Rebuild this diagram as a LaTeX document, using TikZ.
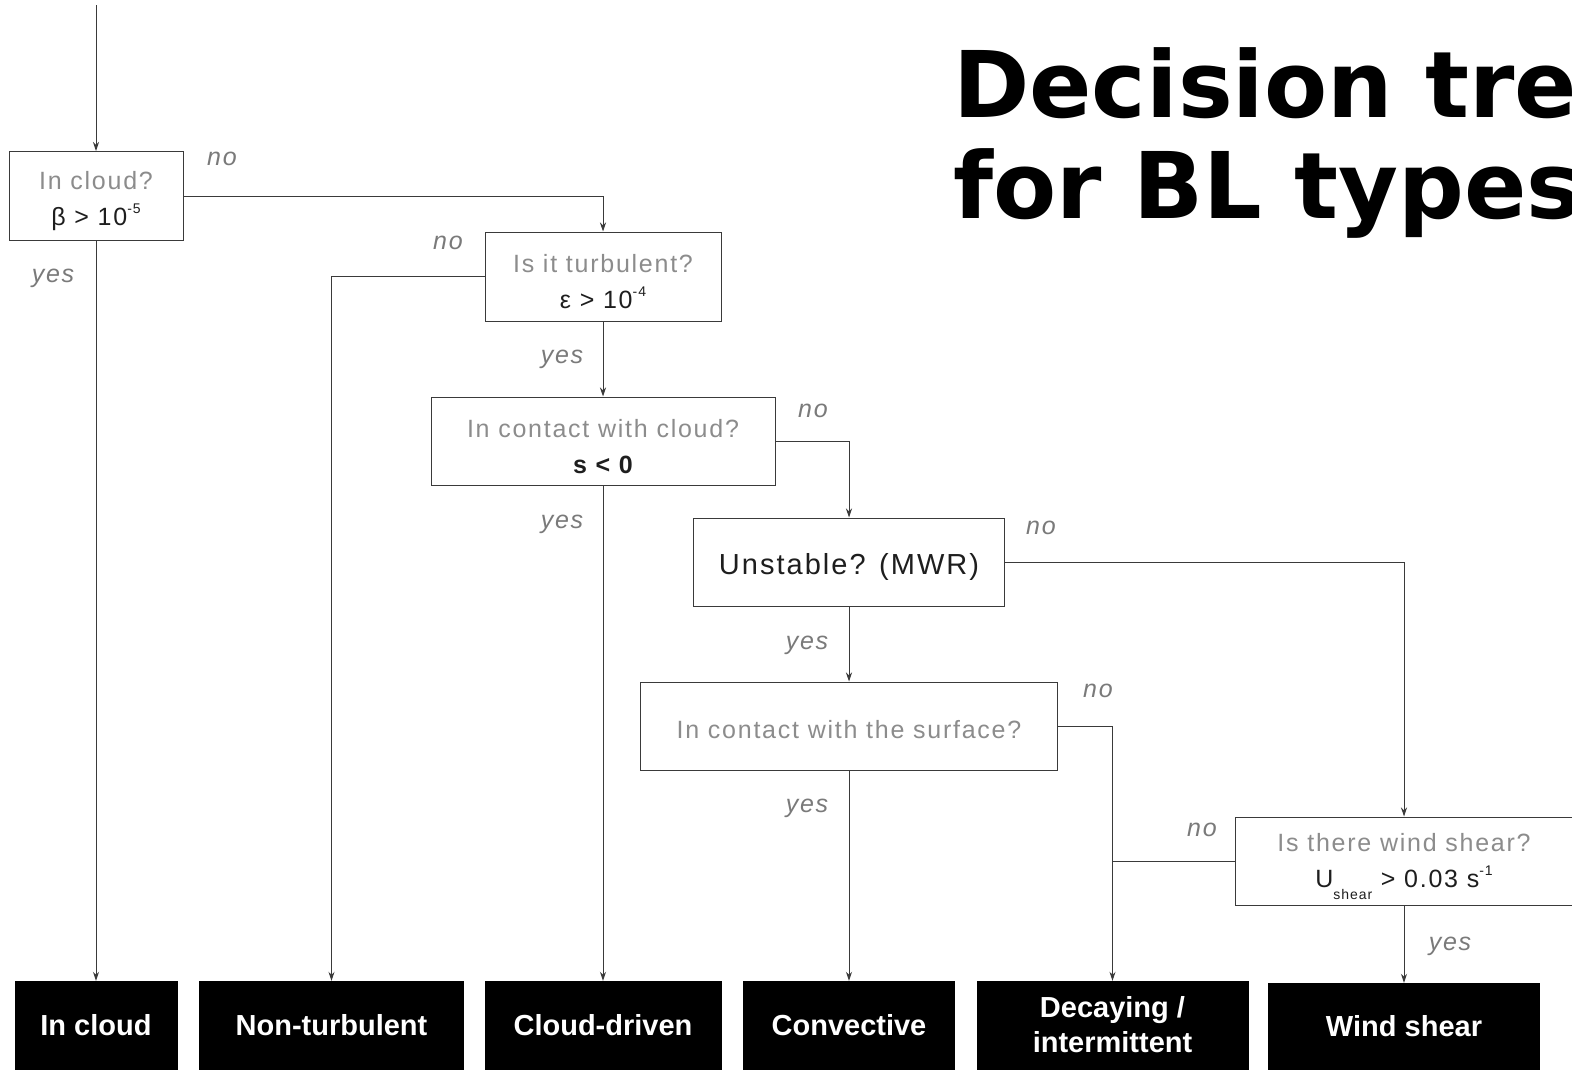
\documentclass[tikz,border=0pt]{standalone}
\usepackage{fontspec}
\setmainfont{Liberation Sans}
\newfontfamily\qfont[LetterSpace=7]{Liberation Sans}
\newfontfamily\titlefont{DejaVu Sans}
\usetikzlibrary{arrows.meta}
\definecolor{qgrey}{HTML}{8C8C8C}
\definecolor{fdark}{HTML}{1E1E1E}
\definecolor{lgrey}{HTML}{7A7A7A}
\definecolor{edgec}{HTML}{3A3A3A}
\newcommand\mysup[1]{\raisebox{0.5em}{\fontsize{14}{14}\selectfont #1}}
\newcommand\mysub[1]{\raisebox{-0.45em}{\fontsize{14}{14}\selectfont #1}}
\newcommand\tstrut{\rule{0pt}{29pt}}
\tikzset{
  qbox/.style={draw=edgec, line width=1pt, fill=white, inner sep=0pt, align=center,
    font=\qfont\fontsize{25}{36}\selectfont, text=qgrey},
  outbox/.style={fill=black, draw=black, inner sep=0pt, align=center, text=white,
    font=\bfseries\fontsize{29}{35}\selectfont, minimum height=88pt},
  lab/.style={text=lgrey, font=\qfont\itshape\fontsize{25}{25}\selectfont, inner sep=0pt},
  conn/.style={draw=edgec, line width=1pt},
  arr/.style={conn, -{Stealth[length=9pt,width=6pt]}}
}
\begin{document}
\begin{tikzpicture}[x=1pt,y=-1pt]
\useasboundingbox[fill=white] (0,0) rectangle (1572,1069);

% title
\node[anchor=base west, inner sep=0pt, font=\titlefont\bfseries\fontsize{92}{92}\selectfont] (t1) at (953,117) {Decision tree};
\node[anchor=base west, inner sep=0pt, font=\titlefont\bfseries\fontsize{92}{92}\selectfont] (t2) at (953,218) {for BL types};

% question boxes
\node[qbox, minimum width=174pt, minimum height=89pt] (b1) at (96,196)
  {\tstrut In cloud?\\{\color{fdark}β > 10\mysup{-5}}};
\node[qbox, minimum width=236pt, minimum height=89pt] (b2) at (603,276.5)
  {\tstrut Is it turbulent?\\{\color{fdark}ε > 10\mysup{-4}}};
\node[qbox, minimum width=344pt, minimum height=88pt] (b3) at (603,441)
  {\tstrut In contact with cloud?\\{\color{fdark}\bfseries s < 0}};
\node[qbox, minimum width=311pt, minimum height=88pt, text=fdark,
  font=\qfont\fontsize{29}{36}\selectfont] (b4) at (849,562) {\rule{0pt}{30pt}Unstable? (MWR)};
\node[qbox, minimum width=417pt, minimum height=88pt] (b5) at (849,726)
  {\rule{0pt}{25pt}In contact with the surface?};
\node[qbox, minimum width=338pt, minimum height=88pt] (b6) at (1404,861)
  {\tstrut Is there wind shear?\\{\color{fdark}U\mysub{shear} > 0.03 s\mysup{-1}}};

% outcome boxes
\node[outbox, minimum width=162pt] (o1) at (96,1025) {In cloud};
\node[outbox, minimum width=264pt] (o2) at (331.5,1025) {Non-turbulent};
\node[outbox, minimum width=236pt] (o3) at (603,1025) {Cloud-driven};
\node[outbox, minimum width=211pt] (o4) at (849,1025) {Convective};
\node[outbox, minimum width=271pt] (o5) at (1112.5,1025) {Decaying /\\intermittent};
\node[outbox, minimum width=271pt, minimum height=86pt] (o6) at (1404,1026) {Wind shear};

% connectors
\coordinate (start) at (96,5);
\draw[arr] (start) -- (b1.north);
\draw[arr] (b1.east) -| (b2.north);
\draw[arr] (b1.south) -- (o1.north);
\draw[arr] (b2.west) -| (o2.north);
\draw[arr] (b2.south) -- (b3.north);
\draw[arr] (b3.east) -| (b4.north);
\draw[arr] (b3.south) -- (o3.north);
\draw[arr] (b4.east) -| (b6.north);
\draw[arr] (b4.south) -- (b5.north);
\draw[arr] (b5.east) -| (o5.north);
\draw[arr] (b5.south) -- (o4.north);
\coordinate (j) at (b6.west -| o5.north);
\draw[conn] (b6.west) -- (j);
\draw[arr] (b6.south) -- (o6.north);

% labels
\node[lab] (n1) at (222,159) {no};
\node[lab] (n2) at (448,243) {no};
\node[lab] (n3) at (813,411) {no};
\node[lab] (n4) at (1041,528) {no};
\node[lab] (n5) at (1098,691) {no};
\node[lab] (n6) at (1202,830) {no};
\node[lab] (y1) at (53,278) {yes};
\node[lab] (y2) at (562,359) {yes};
\node[lab] (y3) at (562,524) {yes};
\node[lab] (y4) at (807,645) {yes};
\node[lab] (y5) at (807,808) {yes};
\node[lab] (y6) at (1450,946) {yes};
\end{tikzpicture}
\end{document}
